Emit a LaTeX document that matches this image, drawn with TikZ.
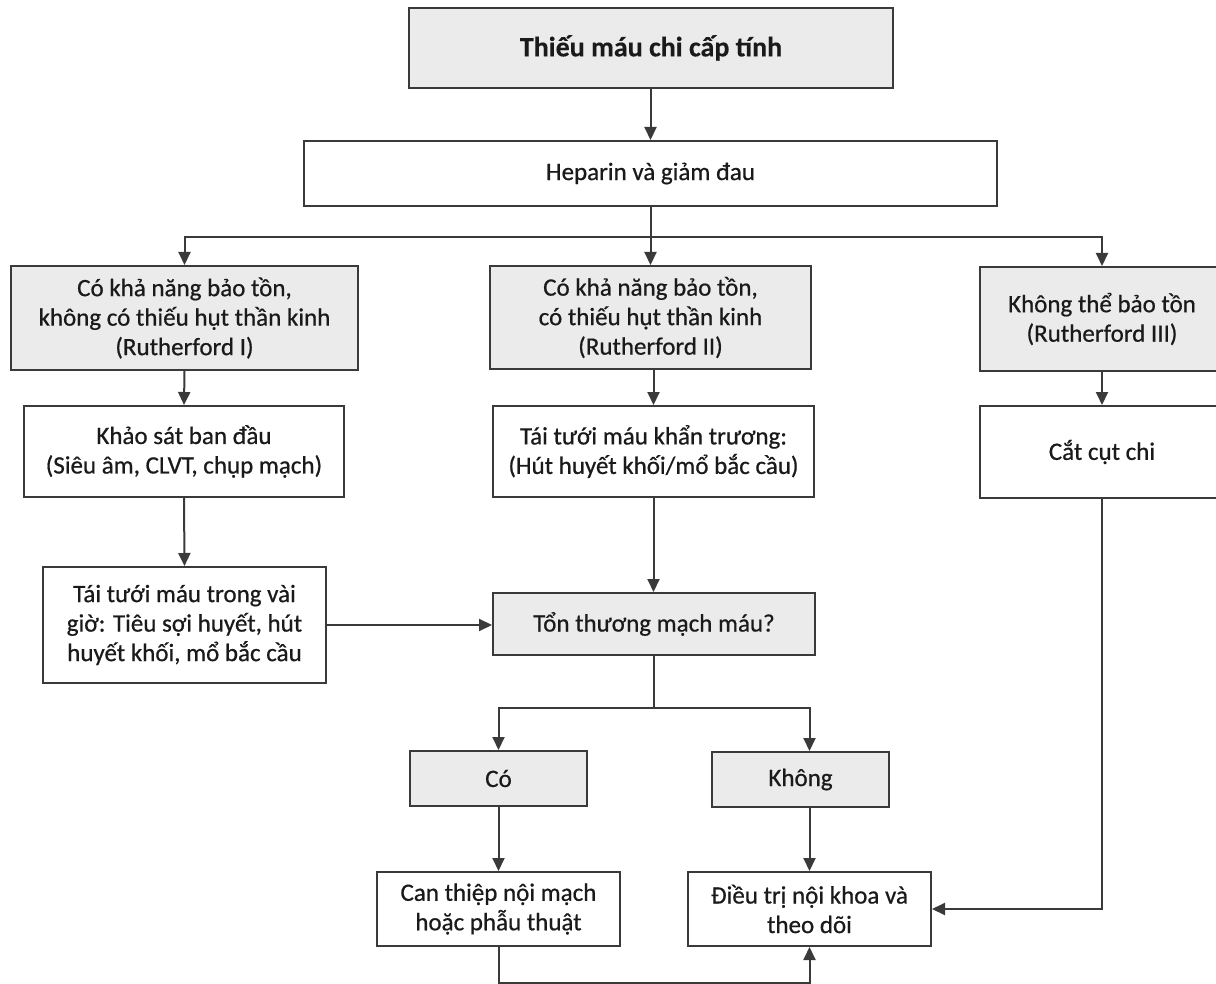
\documentclass[tikz,border=0pt]{standalone}
\usepackage{fontspec}
\setmainfont{Carlito}[FakeBold=0.6]
\newfontfamily\titlefont{Carlito}[FakeBold=0.3,UprightFont=*-Bold]
\usetikzlibrary{arrows.meta,calc}
\definecolor{boxgrey}{HTML}{EBEBEB}
\definecolor{linec}{HTML}{3A3A3A}
\definecolor{txt}{HTML}{1A1A1A}
\begin{document}
\begin{tikzpicture}[x=1pt,y=-1pt,
  base/.style={draw=linec,line width=2pt,align=center,text=txt,font=\fontsize{25}{29.5}\selectfont,inner sep=0pt,anchor=center},
  gbox/.style={base,fill=boxgrey},
  wbox/.style={base,fill=white},
  arr/.style={draw=linec,line width=2pt,-{Triangle[width=12pt,length=13pt]}},
  ln/.style={draw=linec,line width=2pt}]
\useasboundingbox (0,0) rectangle (1216,984);
\fill[white] (0,0) rectangle (1216,984);
% nodes
\node[gbox,minimum width=484pt,minimum height=80pt,font=\titlefont\fontsize{28}{32}\selectfont] (top) at (651,48) {Thiếu máu chi cấp tính};
\node[wbox,minimum width=693pt,minimum height=65pt] (hep) at (650.5,173.5) {Heparin và giảm đau};
\node[gbox,minimum width=347pt,minimum height=104pt] (L1) at (184.5,318) {Có khả năng bảo tồn,\\không có thiếu hụt thần kinh\\(Rutherford I)};
\node[gbox,minimum width=321pt,minimum height=103pt] (M1) at (650.5,317.5) {Có khả năng bảo tồn,\\có thiếu hụt thần kinh\\(Rutherford II)};
\node[gbox,minimum width=244pt,minimum height=104pt] (R1) at (1102,319) {Không thể bảo tồn\\(Rutherford III)};
\node[wbox,minimum width=320pt,minimum height=91pt] (L2) at (184,451.5) {Khảo sát ban đầu\\(Siêu âm, CLVT, chụp mạch)};
\node[wbox,minimum width=321pt,minimum height=91pt] (M2) at (653.5,451.5) {Tái tưới máu khẩn trương:\\(Hút huyết khối/mổ bắc cầu)};
\node[wbox,minimum width=244pt,minimum height=92pt] (R2) at (1102,452) {Cắt cụt chi};
\node[wbox,minimum width=283pt,minimum height=116pt] (L3) at (184.5,625) {Tái tưới máu trong vài\\giờ: Tiêu sợi huyết, hút\\huyết khối, mổ bắc cầu};
\node[gbox,minimum width=322pt,minimum height=62pt] (T) at (654,624) {Tổn thương mạch máu?};
\node[gbox,minimum width=177pt,minimum height=55pt] (co) at (498.5,778.5) {Có};
\node[gbox,minimum width=177pt,minimum height=55pt] (khong) at (800.5,779.5) {Không};
\node[wbox,minimum width=243pt,minimum height=74pt] (can) at (498.5,909) {Can thiệp nội mạch\\hoặc phẫu thuật};
\node[wbox,minimum width=243pt,minimum height=74pt] (dieu) at (809.5,909) {Điều trị nội khoa và\\theo dõi};
% connectors
\coordinate (br) at (652,237);
\coordinate (ts) at (654,708);
\coordinate (bt) at (0,982.5);
\draw[arr] (top.south -| hep.north) -- (hep.north);
\draw[ln] (hep.south) -- (hep.south |- br);
\draw[arr] (hep.south |- br) -| (L1.north);
\draw[arr] (hep.south |- br) -| (R1.north);
\draw[arr] (hep.south |- br) -- (hep.south |- M1.north);
\draw[arr] (L1.south) -- (L2.north);
\draw[arr] (L2.south) -- (L3.north);
\draw[arr] (M1.south -| M2.north) -- (M2.north);
\draw[arr] (M2.south) -- (M2.south |- T.north);
\draw[arr] (R1.south) -- (R2.north);
\draw[arr] (L3.east) -- (L3.east -| T.west);
\draw[ln] (T.south) -- (T.south |- ts);
\draw[arr] (T.south |- ts) -| (co.north);
\draw[arr] (T.south |- ts) -| (dieu.north |- khong.north);
\draw[arr] (co.south) -- (can.north);
\draw[arr] (dieu.north |- khong.south) -- (dieu.north);
\draw[arr] (R2.south) |- (dieu.east);
\draw[arr] (can.south) -- (can.south |- bt) -| (dieu.south);
\end{tikzpicture}
\end{document}
